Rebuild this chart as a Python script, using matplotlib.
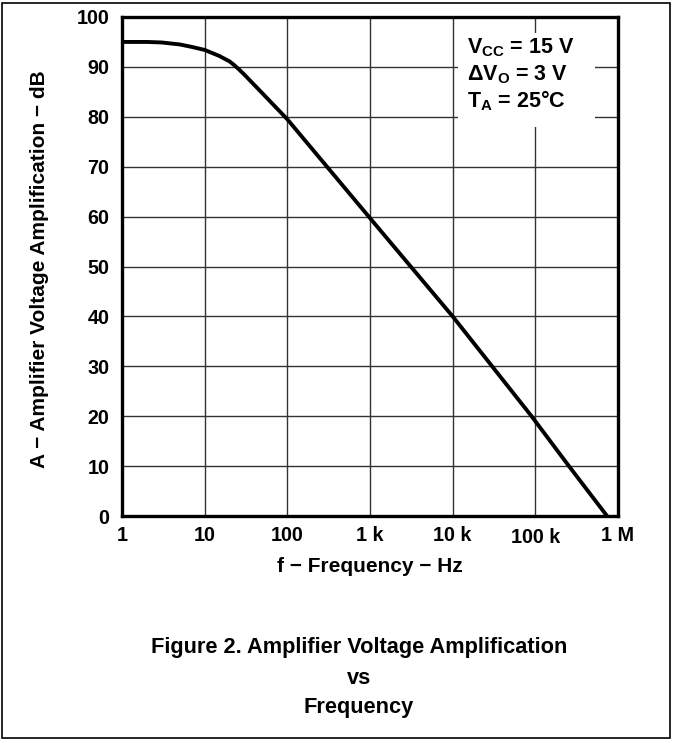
import matplotlib
matplotlib.use("Agg")
import matplotlib.pyplot as plt
from matplotlib.patches import Rectangle
import numpy as np

# Data
freq_hz = [1, 2, 3, 5, 7, 10, 15, 20, 23, 26, 30, 50, 100, 1e3, 1e4, 9e4, 2.55e5, 7.37e5]
gain_db = [95, 95, 94.9, 94.5, 94.0, 93.4, 92.2, 91.1, 90.3, 89.5, 88.5, 84.7, 79.5, 59.7, 40, 20, 10, 0]
xtick_vals = [1, 10, 100, 1e3, 1e4, 1e5, 1e6]
xtick_labels = ["1", "10", "100", "1 k", "10 k", "100 k", "1 M"]
ytick_vals = list(range(0, 101, 10))
cond_lines = ["V$_\\mathregular{CC}$ = 15 V", "ΔV$_\\mathregular{O}$ = 3 V", "T$_\\mathregular{A}$ = 25°C"]
caption_lines = ["Figure 2. Amplifier Voltage Amplification", "vs", "Frequency"]

plt.rcParams['font.family'] = ['Liberation Sans', 'DejaVu Sans']
plt.rcParams['font.weight'] = 'bold'
plt.rcParams['mathtext.fontset'] = 'custom'
plt.rcParams['mathtext.rm'] = 'Liberation Sans:bold'
plt.rcParams['mathtext.bf'] = 'Liberation Sans:bold'

W, H = 673, 740
fig = plt.figure(figsize=(W / 100, H / 100), dpi=100)

L, R, T, B = 122, 618, 17, 516
ax = fig.add_axes([L / W, 1 - B / H, (R - L) / W, (B - T) / H])
ax.set_xscale('log')
ax.set_xlim(1, 1e6)
ax.set_ylim(0, 100)
ax.set_axisbelow(True)
ax.grid(True, which='major', color='#333333', linewidth=1.0)
ax.minorticks_off()
ax.set_xticks(xtick_vals)
ax.set_xticklabels(xtick_labels)
ax.set_yticks(ytick_vals)
ax.tick_params(axis='x', length=0, labelsize=14.2, pad=7)
ax.tick_params(axis='y', length=0, labelsize=14.2, pad=9)
for lab in ax.get_xticklabels() + ax.get_yticklabels():
    lab.set_fontweight('bold')
ax.get_xticklabels()[5].set_y(-0.005)
for s in ax.spines.values():
    s.set_linewidth(2.4)

ax.plot(freq_hz, gain_db, color='black', linewidth=2.8, solid_capstyle='butt',
        solid_joinstyle='round', zorder=3)

# White box behind conditions
x0 = (458 - L) / (R - L); x1 = (595 - L) / (R - L)
y0 = (B - 127) / (B - T); y1 = (B - 33) / (B - T)
ax.add_patch(Rectangle((x0, y0), x1 - x0, y1 - y0, transform=ax.transAxes,
                       facecolor='white', edgecolor='none', zorder=1.5))
for line, yp in zip(cond_lines, [48, 75, 101]):
    fig.text(467 / W, 1 - yp / H, line, fontsize=15.5, fontweight='bold',
             ha='left', va='center', zorder=5)

fig.text(40 / W, 1 - 269 / H, "A − Amplifier Voltage Amplification − dB",
         rotation=90, ha='center', va='center', fontsize=15, fontweight='bold')
fig.text(370 / W, 1 - 567 / H, "f − Frequency − Hz", ha='center', va='center',
         fontsize=15, fontweight='bold')

for txt, yp in zip(caption_lines, [648, 679, 707]):
    fig.text(359 / W, 1 - yp / H, txt, ha='center', va='center', fontsize=15.7, fontweight='bold')

fig.add_artist(Rectangle((2 / W, 2 / H), (W - 5) / W, (H - 5) / H, transform=fig.transFigure,
                         facecolor='none', edgecolor='black', linewidth=1.2))

fig.savefig("out.png", dpi=100)
